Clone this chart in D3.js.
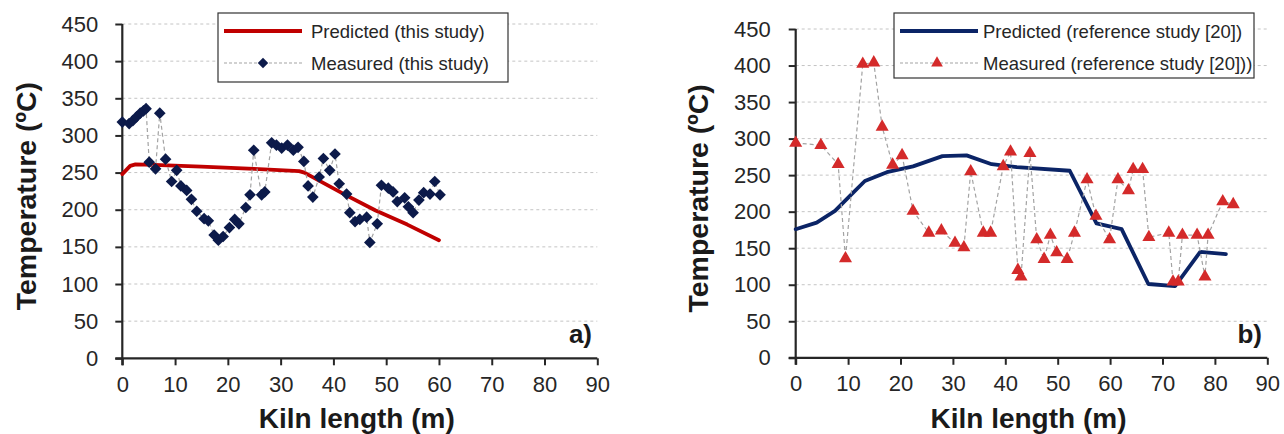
<!DOCTYPE html>
<html><head><meta charset="utf-8">
<script src="https://cdn.jsdelivr.net/npm/d3@7"></script>
<style>
body{margin:0;background:#fff}
svg{display:block}
text{font-family:"Liberation Sans",Arial,sans-serif}
</style>
</head><body>
<svg id="c" width="1284" height="434"></svg>
<script>
// ---- shared axis ticks ----
const xTickValues = [0,10,20,30,40,50,60,70,80,90];
const yTickValues = [0,50,100,150,200,250,300,350,400,450];
const xTitle = "Kiln length (m)";
const yTitle = "Temperature (ºC)";

// ---- panel a) this study ----
const aPredictedLength = [0,1.5,2.5,6,15,25,33.5,34.5,42,48,54,60];
const aPredictedTemp   = [248,259,261,260.5,258,255,252,250,221,199,180,159];
const aMeasuredLength = [0,1.3,2.0,2.7,3.4,4.0,4.5,5.1,6.3,7.1,8.2,9.35,10.3,11.1,12.2,13.1,14.1,15.5,16.3,17.4,18.2,19.1,20.3,21.3,22.1,23.4,24.2,24.9,26.4,27.0,28.3,29.2,30.2,31.3,32.4,33.3,34.4,35.2,36.1,37.3,38.1,39.3,40.3,41.1,42.5,43.1,44.1,45.0,46.3,46.9,48.3,49.1,50.4,51.3,52.1,53.5,54.2,55.1,56.2,57.1,58.3,59.2,60.2];
const aMeasuredTemp   = [318,316,320,325,330,333,336,264,255,330,268,238,253,232,226,214,198,188,185,166,159,164,176,187,181,203,220,280,220,224,290,287,283,287,280,284,265,232,217,244,269,253,275,235,221,196,184,187,190,156,181,233,229,224,211,216,204,196,213,223,221,238,220];
const aLegend = ["Predicted (this study)","Measured (this study)"];

// ---- panel b) reference study ----
const bPredictedLength = [0,4,7.5,10.4,13.2,17.4,22.4,28,32.6,37.4,42.2,52.3,57.4,62.2,67.3,72.4,77.2,82.1];
const bPredictedTemp   = [176,185,201,222,242,254,262,276,277,265,261,256,184,176,101,98,145,142];
const bMeasuredLength = [0,4.8,8.1,9.5,12.8,14.9,16.5,18.5,20.3,22.4,25.4,27.8,30.4,32.1,33.4,35.8,37.2,39.6,41.0,42.4,43.0,44.7,46.0,47.4,48.6,49.8,51.8,53.2,55.6,57.3,59.9,61.5,63.5,64.4,66.2,67.4,71.2,72.0,73.0,73.8,76.6,78.1,78.7,81.5,83.5];
const bMeasuredTemp   = [294,291,265,136,402,404,316,264,277,201,171,174,157,151,255,171,171,262,282,120,111,280,162,135,168,144,135,171,244,194,162,244,229,258,258,165,171,104,104,168,168,111,168,214,210];
const bLegend = ["Predicted (reference study [20])","Measured (reference study [20]))"];

const svg = d3.select("#c");
const zip = (xs, ys) => xs.map((v,i)=>[v, ys[i]]);

function panel(cfg){
  const g = svg.append("g");
  const x = d3.scaleLinear().domain([0,90]).range([cfg.x0, cfg.x1]);
  const y = d3.scaleLinear().domain([0,450]).range([cfg.yb, cfg.yt]);

  // gridlines
  g.selectAll("line.grid").data(yTickValues.filter(v=>v>0)).join("line")
    .attr("x1", x(0)).attr("x2", x(90))
    .attr("y1", d=>y(d)).attr("y2", d=>y(d))
    .attr("stroke", "#c4c4c4").attr("stroke-width", 1).attr("stroke-dasharray", "3,3");

  // axes
  const ya = g.append("g").attr("transform", `translate(${x(0)},0)`)
    .call(d3.axisLeft(y).tickValues(yTickValues).tickSize(7).tickSizeOuter(0).tickPadding(cfg.yPad));
  const xa = g.append("g").attr("transform", `translate(0,${y(0)})`)
    .call(d3.axisBottom(x).tickValues(xTickValues).tickSize(7).tickSizeOuter(0).tickPadding(11));
  [ya, xa].forEach(a=>{
    a.select(".domain").attr("stroke", "#262626").attr("stroke-width", 2.2);
    a.selectAll(".tick line").attr("stroke", "#262626").attr("stroke-width", 2);
    a.selectAll(".tick text").attr("fill", "#262626").attr("font-size", 22)
      .attr("font-family", '"Liberation Sans",Arial,sans-serif');
  });
  xa.select(".domain").attr("d", `M${x(0)-7},0H${x(90)}`);
  ya.select(".domain").attr("d", `M0,${y(0)+7}V${y(450)}`);

  // titles
  g.append("text").attr("x", (x(0)+x(90))/2 - 3).attr("y", 427.5)
    .attr("text-anchor", "middle").attr("font-weight", "bold").attr("font-size", 28)
    .attr("fill", "#1a1a1a").text(xTitle);
  g.append("text").attr("transform", `translate(${cfg.ytx},${(y(0)+y(450))/2 + 5}) rotate(-90)`)
    .attr("text-anchor", "middle").attr("font-weight", "bold").attr("font-size", 28.5)
    .attr("fill", "#1a1a1a").text(yTitle);

  // panel label
  g.append("text").attr("x", cfg.labelX).attr("y", 343).attr("text-anchor", "end")
    .attr("font-weight", "bold").attr("font-size", 26).attr("fill", "#1a1a1a").text(cfg.label);

  const line = d3.line().x(d=>x(d[0])).y(d=>y(d[1]));
  const pred = zip(cfg.predX, cfg.predY);
  const meas = zip(cfg.measX, cfg.measY);

  g.append("path").datum(pred).attr("d", line).attr("fill", "none")
    .attr("stroke", cfg.predColor).attr("stroke-width", 3.8).attr("stroke-linejoin", "round").attr("stroke-linecap", "round");
  g.append("path").datum(meas).attr("d", line).attr("fill", "none")
    .attr("stroke", "#a3a3a3").attr("stroke-width", 1.2).attr("stroke-dasharray", "4,3");
  const sym = d3.symbol().type(cfg.symType).size(cfg.symSize);
  g.selectAll("path.m").data(meas).join("path").attr("class","m")
    .attr("d", sym)
    .attr("transform", d=>`translate(${x(d[0])},${y(d[1])})${cfg.symRot}`)
    .attr("fill", cfg.symColor);

  // legend
  const L = cfg.legend;
  const lg = g.append("g");
  lg.append("rect").attr("x", L.x).attr("y", L.y).attr("width", L.w).attr("height", L.h)
    .attr("fill", "#fff").attr("stroke", "#333").attr("stroke-width", 1.2);
  const r1 = L.y + 18, r2 = L.y + 50;
  lg.append("line").attr("x1", L.x+6).attr("x2", L.x+84).attr("y1", r1).attr("y2", r1)
    .attr("stroke", cfg.predColor).attr("stroke-width", 3.8);
  lg.append("line").attr("x1", L.x+6).attr("x2", L.x+84).attr("y1", r2).attr("y2", r2)
    .attr("stroke", "#a3a3a3").attr("stroke-width", 1.2).attr("stroke-dasharray", "3,2");
  lg.append("path").attr("d", d3.symbol().type(cfg.symType).size(cfg.symSize*0.8))
    .attr("transform", `translate(${L.x+L.mx},${r2})${cfg.symRot}`)
    .attr("fill", cfg.symColor);
  lg.selectAll("text").data(cfg.legendText).join("text")
    .attr("x", L.x+L.tx).attr("y", (d,i)=> (i? r2 : r1) + 6.5)
    .attr("font-size", 18.5).attr("fill", "#262626").text(d=>d);
}

panel({
  x0:122.3, x1:597.3, yb:358.3, yt:24, yPad:17, ytx:36, label:"a)", labelX:592,
  predX:aPredictedLength, predY:aPredictedTemp, measX:aMeasuredLength, measY:aMeasuredTemp,
  predColor:"#c00000", symType:d3.symbolSquare, symSize:68, symRot:" rotate(45)", symColor:"#0c1a4a",
  legend:{x:218, y:13, w:290, h:69, tx:93, mx:45}, legendText:aLegend
});
panel({
  x0:795.7, x1:1267.3, yb:357.8, yt:29, yPad:18, ytx:708, label:"b)", labelX:1262,
  predX:bPredictedLength, predY:bPredictedTemp, measX:bMeasuredLength, measY:bMeasuredTemp,
  predColor:"#0b2466", symType:d3.symbolTriangle, symSize:74, symRot:"", symColor:"#d42a2a",
  legend:{x:894, y:13, w:360, h:65, tx:89, mx:43}, legendText:bLegend
});
</script>
</body></html>
